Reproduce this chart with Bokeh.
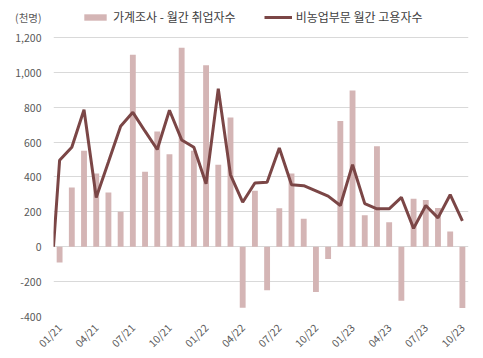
from bokeh.plotting import figure
from bokeh.models import (Range1d, FixedTicker, NumeralTickFormatter, Legend, LegendItem,
                          ColumnDataSource)
from bokeh.embed import file_html
from bokeh.resources import INLINE
import math

months = ["01/21", "02/21", "03/21", "04/21", "05/21", "06/21", "07/21", "08/21", "09/21",
          "10/21", "11/21", "12/21", "01/22", "02/22", "03/22", "04/22", "05/22", "06/22",
          "07/22", "08/22", "09/22", "10/22", "11/22", "12/22", "01/23", "02/23", "03/23",
          "04/23", "05/23", "06/23", "07/23", "08/23", "09/23", "10/23"]

household = [-90, 340, 550, 420, 310, 200, 1100, 430, 660, 530, 1140, 550, 1040, 470, 740,
             -350, 320, -250, 220, 420, 160, -260, -70, 720, 895, 180, 575, 140, -310, 275,
             268, 222, 87, -352]

nonfarm_start = 0
nonfarm = [495, 570, 785, 282, 485, 690, 770, 662, 557, 782, 612, 570, 361, 906, 412,
           255, 365, 370, 566, 355, 350, 320, 290, 236, 470, 247, 217, 217, 283, 105,
           236, 165, 298, 148]

tick_labels = {i: m for i, m in enumerate(months) if i % 3 == 0}
y_ticks = [-400, -200, 0, 200, 400, 600, 800, 1000, 1200]
unit_text = "(천명)"

# layout constants (vertical room above the 1,200 gridline for the legend row)
Y_TOP = 1411
UNIT_POS = 1314

bar_color = "#d4b5b5"
line_color = "#7b4646"
text_color = "#595959"
kr_font = "Noto Sans CJK KR"

idx = list(range(len(months)))
bar_src = ColumnDataSource(dict(x=idx, top=household))
line_src = ColumnDataSource(dict(x=[-0.5] + idx, y=[nonfarm_start] + nonfarm))

p = figure(width=483, height=358, output_backend="svg", toolbar_location=None,
           x_range=Range1d(-0.5, len(months) - 0.5), y_range=Range1d(-400, Y_TOP),
           min_border_left=53, min_border_right=15, min_border_top=0, min_border_bottom=41)
p.outline_line_color = None
p.background_fill_color = "white"

bars = p.vbar(x="x", top="top", bottom=0, width=0.48, source=bar_src,
              fill_color=bar_color, line_color=None)
line = p.line(x="x", y="y", source=line_src, line_color=line_color, line_width=3)

p.xgrid.visible = False
p.ygrid.ticker = FixedTicker(ticks=y_ticks)
p.ygrid.grid_line_color = "#d9d9d9"
p.ygrid.grid_line_width = 1

p.yaxis.ticker = FixedTicker(ticks=y_ticks + [UNIT_POS])
p.yaxis.formatter = NumeralTickFormatter(format="0,0")
p.yaxis.major_label_overrides = {UNIT_POS: unit_text}
p.yaxis.axis_line_color = None
p.yaxis.major_tick_line_color = None
p.yaxis.minor_tick_line_color = None
p.yaxis.major_tick_out = 0
p.yaxis.major_tick_in = 0
p.yaxis.major_label_standoff = 12
p.yaxis.major_label_text_font = kr_font
p.yaxis.major_label_text_font_size = "10.5px"
p.yaxis.major_label_text_color = text_color

p.xaxis.ticker = FixedTicker(ticks=list(tick_labels.keys()))
p.xaxis.major_label_overrides = tick_labels
p.xaxis.major_label_orientation = math.pi / 4
p.xaxis.axis_line_color = None
p.xaxis.major_tick_line_color = None
p.xaxis.minor_tick_line_color = None
p.xaxis.major_tick_out = 0
p.xaxis.major_tick_in = 0
p.xaxis.major_label_standoff = 9
p.xaxis.major_label_text_font = kr_font
p.xaxis.major_label_text_font_size = "10.5px"
p.xaxis.major_label_text_color = text_color

legend = Legend(items=[LegendItem(label="가계조사 - 월간 취업자수", renderers=[bars]),
                       LegendItem(label="비농업부문 월간 고용자수", renderers=[line])],
                orientation="horizontal", location=(28, 291), padding=0, margin=0,
                spacing=28, glyph_width=28, glyph_height=8, label_standoff=4,
                background_fill_alpha=0, border_line_alpha=0,
                label_text_font=kr_font, label_text_font_size="12px",
                label_text_color="#404040")
p.add_layout(legend, "center")

open("out.html", "w").write(file_html(p, INLINE))
